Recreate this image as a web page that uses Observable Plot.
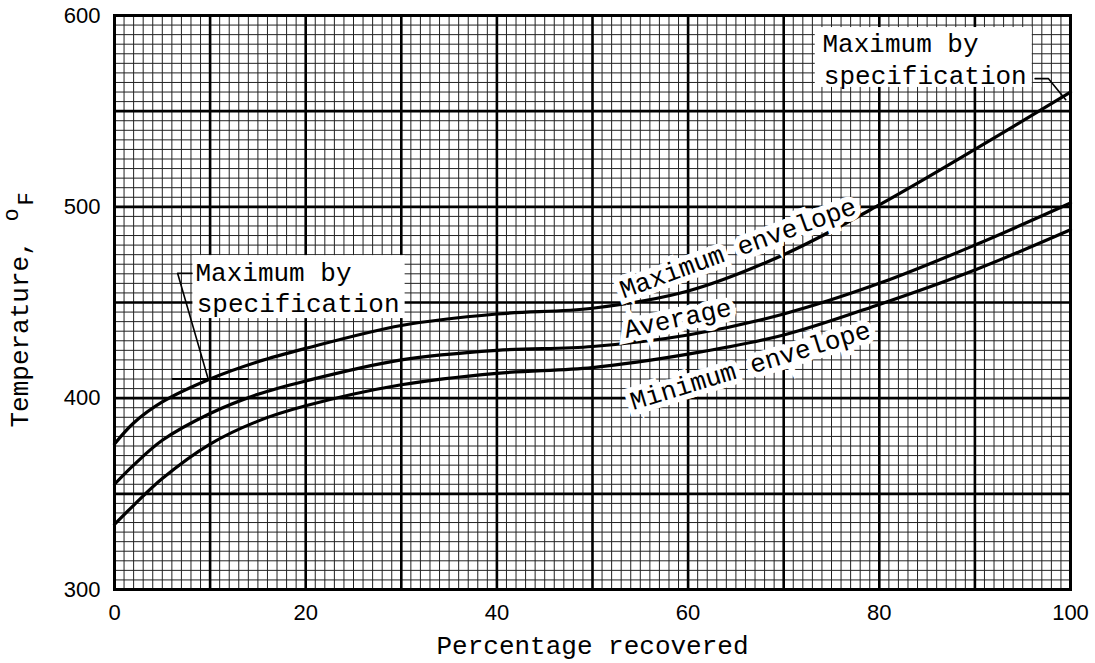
<!DOCTYPE html>
<html>
<head>
<meta charset="utf-8">
<script src="https://cdn.jsdelivr.net/npm/d3@7"></script>
<script src="https://cdn.jsdelivr.net/npm/@observablehq/plot@0.6"></script>
<style>
  html, body { margin: 0; padding: 0; background: #fff; }
  #chart { width: 1095px; height: 663px; }
</style>
</head>
<body>
<div id="chart"></div>
<script>
// ---- data ----
const pct = [0, 2, 5, 10, 15, 20, 30, 40, 50, 60, 70, 80, 90, 100];
const maxEnvelope = [376, 387, 398, 410, 419, 426, 438, 444, 447, 456, 475, 501, 530, 560];
const average     = [355, 365, 378, 392, 402, 409, 420, 425, 427, 433, 444, 460, 480, 502];
const minEnvelope = [334, 344, 358, 376, 388, 396, 407, 413, 416, 423, 433, 449, 467, 488];

const xTicks = [0, 20, 40, 60, 80, 100];
const yTicks = [300, 400, 500, 600];

const curveLabels = ["Maximum envelope", "Average", "Minimum envelope"];
const specLabelLines = ["Maximum by", "specification"];
const specValue = 410;      // Maximum by specification, 10 % point
const specEndValue = 560;   // Maximum by specification, end point

// ---- derived tables ----
const series = [
  {name: "Maximum envelope", values: maxEnvelope},
  {name: "Average", values: average},
  {name: "Minimum envelope", values: minEnvelope}
];
const lineRows = series.flatMap(s => s.values.map((v, i) => ({series: s.name, x: pct[i], y: v})));

// grid lines
const minorX = d3.range(0, 101, 1);
const majorX = d3.range(0, 101, 10);
const minorY = d3.range(300, 601, 5);
const majorY = d3.range(300, 601, 50);

// annotation placement (data units)
const curveLabelRows = [
  {text: curveLabels[0], x: 65.2, y: 478.5, angle: -20},
  {text: curveLabels[1], x: 58.9, y: 441.6, angle: -12},
  {text: curveLabels[2], x: 66.5, y: 417.0, angle: -17}
];
const boxRows = [
  {x1: 8.2, x2: 30.4, y1: 441.6, y2: 474.5},
  {x1: 73.3, x2: 96.0, y1: 562.4, y2: 593.7}
];
const specTextRows = [
  {text: specLabelLines[0], x: 8.47, y: 465.7},
  {text: specLabelLines[1], x: 8.6, y: 449.5},
  {text: specLabelLines[0], x: 74.06, y: 585.4},
  {text: specLabelLines[1], x: 74.2, y: 568.6}
];
const leaderRows = [
  {id: "a", x: 8.1, y: 465.3}, {id: "a", x: 6.6, y: 465.3}, {id: "a", x: 9.8, y: specValue},
  {id: "b", x: 96.3, y: 567}, {id: "b", x: 97.7, y: 567}, {id: "b", x: 99.5, y: specEndValue - 4}
];
const specRule = [{x1: 6, x2: 14, y: specValue}];

const mono = "Liberation Mono, DejaVu Sans Mono, monospace";

const chart = Plot.plot({
  width: 1095,
  height: 663,
  marginLeft: 114,
  marginRight: 25,
  marginTop: 15,
  marginBottom: 74,
  x: {domain: [0, 100]},
  y: {domain: [300, 600]},
  style: {fontFamily: "Liberation Sans, Arial, sans-serif", fontSize: "22px", color: "#000", background: "#fff"},
  marks: [
    Plot.ruleX(minorX, {stroke: "#222", strokeWidth: 1}),
    Plot.ruleY(minorY, {stroke: "#222", strokeWidth: 1}),
    Plot.ruleX(majorX, {stroke: "#000", strokeWidth: 2.6}),
    Plot.ruleY(majorY, {stroke: "#000", strokeWidth: 2.6}),
    Plot.frame({stroke: "#000", strokeWidth: 3}),
    Plot.rect(boxRows, {x1: "x1", x2: "x2", y1: "y1", y2: "y2", fill: "#fff"}),
    Plot.line(lineRows, {x: "x", y: "y", z: "series", stroke: "#000", strokeWidth: 3.2, curve: "catmull-rom"}),
    Plot.link(specRule, {x1: "x1", x2: "x2", y1: "y", y2: "y", stroke: "#000", strokeWidth: 2}),
    Plot.line(leaderRows, {x: "x", y: "y", z: "id", stroke: "#000", strokeWidth: 1.6}),
    Plot.text(curveLabelRows, {
      x: "x", y: "y", text: "text", rotate: "angle",
      fontFamily: mono, fontSize: 26, fill: "#000",
      stroke: "#fff", strokeWidth: 11, strokeLinejoin: "miter", paintOrder: "stroke"
    }),
    Plot.text(specTextRows, {
      x: "x", y: "y", text: "text", textAnchor: "start",
      fontFamily: mono, fontSize: 26, fill: "#000"
    }),
    Plot.axisX({ticks: xTicks, tickSize: 0, tickPadding: 15, label: null, fontSize: 22}),
    Plot.axisY({ticks: yTicks, tickSize: 0, tickPadding: 14, label: null, fontSize: 22}),
    Plot.text(["Percentage recovered"], {frameAnchor: "bottom", dy: 64, fontFamily: mono, fontSize: 26}),
    Plot.text(["Temperature,"], {frameAnchor: "bottom-left", dx: -87, dy: -162, rotate: -90, textAnchor: "start", fontFamily: mono, fontSize: 26}),
    Plot.text(["o"], {frameAnchor: "bottom-left", dx: -97, dy: -368, rotate: -90, textAnchor: "start", fontFamily: mono, fontSize: 22}),
    Plot.text(["F"], {frameAnchor: "bottom-left", dx: -82, dy: -384, rotate: -90, textAnchor: "start", fontFamily: mono, fontSize: 22})
  ]
});
document.getElementById("chart").appendChild(chart);
</script>
</body>
</html>
